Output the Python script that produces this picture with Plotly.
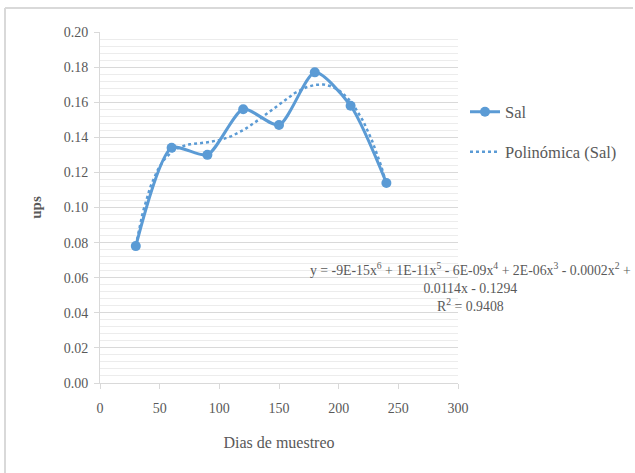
import numpy as np
import plotly.graph_objects as go

dias = [30, 60, 90, 120, 150, 180, 210, 240]
sal = [0.078, 0.134, 0.130, 0.156, 0.147, 0.177, 0.158, 0.114]
x_ticks = [0, 50, 100, 150, 200, 250, 300]
y_ticks = [0.00, 0.02, 0.04, 0.06, 0.08, 0.10, 0.12, 0.14, 0.16, 0.18, 0.20]
equation = ("y = -9E-15x<sup>6</sup> + 1E-11x<sup>5</sup> - 6E-09x<sup>4</sup> + 2E-06x<sup>3</sup> - 0.0002x<sup>2</sup> +"
            "<br>0.0114x - 0.1294<br>R<sup>2</sup> = 0.9408")

BLUE = "#5B9BD5"
FONT = "Liberation Serif, Times New Roman, serif"
GREY = "#595959"

# 6th-order polynomial trendline fitted to the series
coef = np.polyfit(dias, sal, 6)
xt = np.linspace(min(dias), max(dias), 200)
yt = np.polyval(coef, xt)

fig = go.Figure()
fig.add_trace(go.Scatter(
    x=dias, y=sal, name="Sal", mode="lines+markers",
    line=dict(color=BLUE, width=3, shape="spline", smoothing=0.7),
    marker=dict(color=BLUE, size=10, symbol="circle"),
    legend="legend", showlegend=True,
))
fig.add_trace(go.Scatter(
    x=xt, y=yt, name="Polinómica (Sal)", mode="lines",
    line=dict(color=BLUE, width=2.5, dash="dot"),
    legend="legend2", showlegend=True,
))

W, H = 635, 473
L, R, T, B = 100, 177, 32, 90
pw, ph = W - L - R, H - T - B

def px(xpix):
    return (xpix - L) / pw

def py(ypix):
    return (H - B - ypix) / ph

fig.update_layout(
    width=W, height=H,
    margin=dict(l=L, r=R, t=T, b=B, autoexpand=False),
    paper_bgcolor="white", plot_bgcolor="white",
    showlegend=True,
    font=dict(family=FONT, color=GREY, size=14),
    legend=dict(x=px(465), y=py(112), xanchor="left", yanchor="middle",
                font=dict(family=FONT, size=16.5, color=GREY),
                bgcolor="rgba(0,0,0,0)"),
    legend2=dict(x=px(465), y=py(152), xanchor="left", yanchor="middle",
                 font=dict(family=FONT, size=16.5, color=GREY),
                 bgcolor="rgba(0,0,0,0)", visible=True),
    xaxis=dict(
        range=[0, 300], tickvals=x_ticks, ticktext=[str(v) for v in x_ticks],
        showgrid=False, zeroline=False,
        showline=True, linecolor="#d9d9d9", linewidth=1,
        ticks="outside", ticklen=5, tickcolor="#d9d9d9",
        ticklabelstandoff=7,
        tickfont=dict(family=FONT, size=14, color=GREY),
        title=dict(text="Dias de muestreo", font=dict(family=FONT, size=16, color=GREY), standoff=22),
    ),
    yaxis=dict(
        range=[0, 0.2], tickvals=y_ticks, ticktext=[f"{v:.2f}" for v in y_ticks],
        showgrid=True, gridcolor="#d9d9d9", gridwidth=1, zeroline=False,
        showline=True, linecolor="#d9d9d9", linewidth=1,
        ticks="outside", ticklen=5, tickcolor="#d9d9d9",
        ticklabelstandoff=3,
        minor=dict(dtick=0.004, showgrid=True, gridcolor="#ececec", gridwidth=1),
        tickfont=dict(family=FONT, size=14, color=GREY),
        title=dict(text="<b>ups</b>", font=dict(family=FONT, size=15, color=GREY), standoff=18),
    ),
    annotations=[dict(
        text=equation, x=px(470), y=py(287), xref="paper", yref="paper",
        xanchor="center", yanchor="middle", showarrow=False, align="center",
        font=dict(family=FONT, size=13.8, color=GREY),
    )],
    shapes=[
        dict(type="line", xref="paper", yref="paper", x0=px(5), x1=px(633), y0=py(8), y1=py(8),
             line=dict(color="#d9d9d9", width=2)),
        dict(type="line", xref="paper", yref="paper", x0=px(5), x1=px(5), y0=py(8), y1=py(473),
             line=dict(color="#d9d9d9", width=2)),
    ],
)

fig.write_html("out.html")
